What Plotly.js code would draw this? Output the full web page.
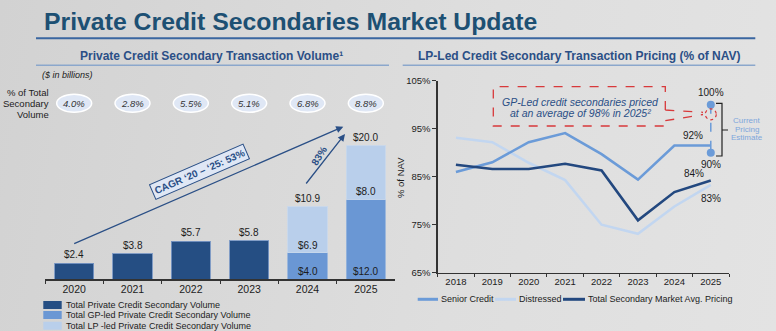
<!DOCTYPE html>
<html>
<head>
<meta charset="utf-8">
<script src="https://cdn.plot.ly/plotly-3.0.1.min.js"></script>
<style>
html,body{margin:0;padding:0;}
body{width:776px;height:331px;overflow:hidden;
background:linear-gradient(100deg,#d2d2d2 0%,#d9d9d9 35%,#dedede 60%,#e3e3e3 100%);}
#chart{width:776px;height:331px;}
</style>
</head>
<body>
<div id="chart"></div>
<script>
// ---------- DATA ----------
const volumeYears = ['2020', '2021', '2022', '2023', '2024', '2025'];
const totalVolume = [2.4, 3.8, 5.7, 5.8, null, null];
const gpLedVolume = [null, null, null, null, 4.0, 12.0];
const lpLedVolume = [null, null, null, null, 6.9, 8.0];
const volumeTotals = [2.4, 3.8, 5.7, 5.8, 10.9, 20.0];
const pctOfTotal = ['4.0%', '2.8%', '5.5%', '5.1%', '6.8%', '8.8%'];
const volumeSeriesNames = ['Total Private Credit Secondary Volume',
  'Total GP-led Private Credit Secondary Volume',
  'Total LP -led Private Credit Secondary Volume'];

const pricingYears = ['2018', '2019', '2020', '2021', '2022', '2023', '2024', '2025'];
const seniorCredit = [86.0, 88.0, 92.2, 94.1, 89.7, 84.4, 91.5, 91.5];
const distressed = [93.1, 92.2, 87.9, 84.3, 75.0, 73.1, 78.8, 83.3];
const totalAvgPricing = [87.5, 86.6, 86.6, 87.7, 86.3, 75.9, 81.8, 84.2];
const estimateYears = ['2025', '2025'];
const estimateRange = [100, 90];
const gpLedAvg2025 = 98;
const pricingSeriesNames = ['Senior Credit', 'Distressed', 'Total Secondary Market Avg. Pricing'];

// ---------- STYLE ----------
const W = 776, H = 331;
const px = x => x / W;
const py = y => 1 - y / H;
const FONT = 'Liberation Sans, Arial, sans-serif';
const NAVY = '#254e83';
const MID = '#6a97d4';
const LIGHT = '#b9cfeb';
const LINE_SENIOR = '#6b9bd8';
const LINE_DIST = '#c2d6f0';
const LINE_TOTAL = '#23487f';
const RED = '#d8393b';
const TXT = '#1c1c1c';

// ---------- TRACES ----------
const barLine = {color: 'rgba(120,150,195,0.9)', width: 1};
const traces = [
  {type: 'bar', x: volumeYears, y: totalVolume, name: volumeSeriesNames[0],
   marker: {color: NAVY, line: barLine}, xaxis: 'x', yaxis: 'y', showlegend: false, hoverinfo: 'skip'},
  {type: 'bar', x: volumeYears, y: gpLedVolume, name: volumeSeriesNames[1],
   marker: {color: MID, line: {color: 'rgba(150,180,220,0.9)', width: 1}}, xaxis: 'x', yaxis: 'y', showlegend: false, hoverinfo: 'skip'},
  {type: 'bar', x: volumeYears, y: lpLedVolume, name: volumeSeriesNames[2],
   marker: {color: LIGHT, line: {color: 'rgba(200,215,235,0.9)', width: 1}}, xaxis: 'x', yaxis: 'y', showlegend: false, hoverinfo: 'skip'},
  {type: 'scatter', mode: 'lines', x: pricingYears, y: distressed, name: pricingSeriesNames[1],
   line: {color: LINE_DIST, width: 2.6}, xaxis: 'x2', yaxis: 'y2', showlegend: false},
  {type: 'scatter', mode: 'lines', x: pricingYears, y: seniorCredit, name: pricingSeriesNames[0],
   line: {color: LINE_SENIOR, width: 2.6}, xaxis: 'x2', yaxis: 'y2', showlegend: false},
  {type: 'scatter', mode: 'lines', x: pricingYears, y: totalAvgPricing, name: pricingSeriesNames[2],
   line: {color: LINE_TOTAL, width: 2.6}, xaxis: 'x2', yaxis: 'y2', showlegend: false},
  {type: 'scatter', mode: 'lines+markers', x: estimateYears, y: estimateRange, name: 'Current Pricing Estimate',
   line: {color: LINE_SENIOR, width: 1.5, dash: 'dash'}, marker: {color: LINE_SENIOR, size: 8},
   xaxis: 'x2', yaxis: 'y2', showlegend: false}
];

// ---------- ANNOTATIONS ----------
const ann = [];
const T = (x, y, text, size, opts) => Object.assign({
  xref: 'paper', yref: 'paper', x: px(x), y: py(y), text: text, showarrow: false,
  xanchor: 'center', yanchor: 'middle', font: {family: FONT, size: size, color: TXT}
}, opts || {});

// Title and subtitles
ann.push(T(42, 21.5, '<b>Private Credit Secondaries Market Update</b>', 24.8,
  {xanchor: 'left', font: {family: FONT, size: 24.8, color: '#1d5073'}}));
ann.push(T(212, 56, '<b>Private Credit Secondary Transaction Volume¹</b>', 12,
  {font: {family: FONT, size: 12, color: '#2b4f86'}}));
ann.push(T(579, 56, '<b>LP-Led Credit Secondary Transaction Pricing (% of NAV)</b>', 12,
  {font: {family: FONT, size: 12, color: '#2b4f86'}}));

// Left chart header texts
ann.push(T(40, 75, '<i>($ in billions)</i>', 9, {xanchor: 'left'}));
ann.push(T(51, 92.7, '% of Total', 9.5, {xanchor: 'right'}));
ann.push(T(51, 103.3, 'Secondary', 9.5, {xanchor: 'right'}));
ann.push(T(51, 114, 'Volume', 9.5, {xanchor: 'right'}));

// pct ellipses (category index positions)
const shapes = [];
volumeYears.forEach((yr, i) => {
  shapes.push({type: 'circle', xref: 'x', yref: 'paper', x0: i - 0.3, x1: i + 0.3,
    y0: py(112.3), y1: py(94.3), fillcolor: '#dfe7f5', line: {color: '#ffffff', width: 1.5}, layer: 'above'});
  ann.push({xref: 'x', yref: 'paper', x: i, y: py(103.3), xanchor: 'center', yanchor: 'middle',
    text: '<i>' + pctOfTotal[i] + '</i>', showarrow: false, font: {family: FONT, size: 9.5, color: '#333'}});
});

// Bar value labels
volumeYears.forEach((yr, i) => {
  ann.push({xref: 'x', yref: 'y', x: i, y: volumeTotals[i], yanchor: 'bottom', yshift: 1,
    text: '$' + volumeTotals[i].toFixed(1), showarrow: false, font: {family: FONT, size: 10, color: TXT}});
  if (gpLedVolume[i] != null) {
    ann.push({xref: 'x', yref: 'y', x: i, y: 0, yanchor: 'bottom', yshift: 0,
      text: '$' + gpLedVolume[i].toFixed(1), showarrow: false, font: {family: FONT, size: 10, color: TXT}});
    ann.push({xref: 'x', yref: 'y', x: i, y: gpLedVolume[i], yanchor: 'bottom', yshift: 0,
      text: '$' + lpLedVolume[i].toFixed(1), showarrow: false, font: {family: FONT, size: 10, color: TXT}});
  }
});

// CAGR arrow and label
ann.push({xref: 'paper', yref: 'paper', x: px(343.3), y: py(126.7), ax: 72.7 - 343.3, ay: 244.3 - 126.7,
  showarrow: true, arrowhead: 2, arrowsize: 1.1, arrowwidth: 1.3, arrowcolor: '#2a4f86', text: ''});
ann.push(T(200, 171.7, '<b>CAGR ‘20 – ‘25: 53%</b>', 10,
  {textangle: -23.5, bgcolor: '#dfe7f5', bordercolor: '#2a4f86', borderwidth: 1, borderpad: 2,
   font: {family: FONT, size: 10, color: '#2a4f86'}}));
ann.push({xref: 'paper', yref: 'paper', x: px(345), y: py(134), ax: 305 - 345, ay: 185 - 134,
  showarrow: true, arrowhead: 2, arrowsize: 1.1, arrowwidth: 1.3, arrowcolor: '#2a4f86', text: ''});
ann.push(T(318.5, 156, '<b>83%</b>', 10, {textangle: -58, font: {family: FONT, size: 10, color: '#2a4f86'}}));

// Left legend (manual, compact rows)
const legendColors = [NAVY, MID, LIGHT];
[305, 315, 325.7].forEach((yc, i) => {
  shapes.push({type: 'rect', xref: 'paper', yref: 'paper', x0: px(43.3), x1: px(61.7),
    y0: py(yc + 4), y1: py(yc - 4), fillcolor: legendColors[i], line: {width: 0}});
  ann.push(T(64, yc, volumeSeriesNames[i], 9, {xanchor: 'left'}));
});

// Right chart annotations
ann.push(T(400, 177, '% of NAV', 9.5, {textangle: -90}));
const last = pricingYears.length - 1;
ann.push({xref: 'x2', yref: 'y2', x: last, y: estimateRange[0], yanchor: 'bottom', yshift: 5,
  text: estimateRange[0] + '%', showarrow: false, font: {family: FONT, size: 10, color: TXT}});
ann.push({xref: 'x2', yref: 'y2', x: last, y: estimateRange[1], yanchor: 'top', yshift: -4,
  text: estimateRange[1] + '%', showarrow: false, font: {family: FONT, size: 10, color: TXT}});
ann.push({xref: 'x2', yref: 'y2', x: last, y: seniorCredit[last], yanchor: 'bottom', yshift: 3, xshift: -18,
  text: Math.round(seniorCredit[last]) + '%', showarrow: false, font: {family: FONT, size: 10, color: TXT}});
ann.push({xref: 'x2', yref: 'y2', x: last, y: totalAvgPricing[last], yanchor: 'bottom', yshift: 0, xshift: -17,
  text: Math.round(totalAvgPricing[last]) + '%', showarrow: false, font: {family: FONT, size: 10, color: TXT}});
ann.push({xref: 'x2', yref: 'y2', x: last, y: distressed[last], yanchor: 'top', yshift: -6,
  text: Math.round(distressed[last]) + '%', showarrow: false, font: {family: FONT, size: 10, color: TXT}});

// callout text
ann.push(T(580, 102, '<i>GP-Led credit secondaries priced</i>', 10.5, {font: {family: FONT, size: 10.5, color: '#2b4f86'}}));
ann.push(T(580, 112.5, '<i>at an average of ' + gpLedAvg2025 + '% in 2025²</i>', 10.5, {font: {family: FONT, size: 10.5, color: '#2b4f86'}}));
ann.push(T(746.7, 120.7, 'Current', 8, {font: {family: FONT, size: 8, color: '#7ea6dc'}}));
ann.push(T(746.7, 129, 'Pricing', 8, {font: {family: FONT, size: 8, color: '#7ea6dc'}}));
ann.push(T(746.7, 137.3, 'Estimate', 8, {font: {family: FONT, size: 8, color: '#7ea6dc'}}));

// Right legend (manual)
const rlColors = [LINE_SENIOR, LINE_DIST, LINE_TOTAL];
const rlLine = [[417.7, 438], [495, 516], [563, 585]];
pricingSeriesNames.forEach((nm, i) => {
  shapes.push({type: 'line', xref: 'paper', yref: 'paper', x0: px(rlLine[i][0]), x1: px(rlLine[i][1]),
    y0: py(299.3), y1: py(299.3), line: {color: rlColors[i], width: 3}});
  ann.push(T(rlLine[i][1] + 1, 299.3, nm, 9, {xanchor: 'left'}));
});

// ---------- SHAPES (decorations) ----------
shapes.push({type: 'line', xref: 'paper', yref: 'paper', x0: px(36), x1: px(755.3), y0: py(38.3), y1: py(38.3),
  line: {color: '#3a66a0', width: 2}});
shapes.push({type: 'line', xref: 'paper', yref: 'paper', x0: px(36), x1: px(389), y0: py(65.3), y1: py(65.3),
  line: {color: '#8ba7cc', width: 1.5}});
shapes.push({type: 'line', xref: 'paper', yref: 'paper', x0: px(402.7), x1: px(755.3), y0: py(65.3), y1: py(65.3),
  line: {color: '#8ba7cc', width: 1.5}});

const P = (x, y) => px(x).toFixed(5) + ',' + py(y).toFixed(5);
shapes.push({type: 'path', xref: 'paper', yref: 'paper',
  path: 'M' + P(665.3, 110) + 'L' + P(665.3, 86.7) + 'L' + P(493.3, 86.7) + 'L' + P(493.3, 126) +
        'L' + P(665.3, 126) + 'L' + P(665.3, 120.7) +
        'M' + P(665.3, 110) + 'L' + P(703, 112.3) +
        'M' + P(665.3, 120.7) + 'L' + P(703, 114.5),
  line: {color: RED, width: 1.3, dash: 'dash'}});
shapes.push({type: 'circle', xref: 'x2', yref: 'y2', xsizemode: 'pixel', ysizemode: 'pixel',
  xanchor: last, yanchor: gpLedAvg2025, x0: -5.5, x1: 5.5, y0: -5.5, y1: 5.5,
  line: {color: RED, width: 1.2, dash: 'dot'}});
shapes.push({type: 'path', xref: 'paper', yref: 'paper',
  path: 'M' + P(716, 103.3) + 'L' + P(722, 103.3) + 'L' + P(722, 156) + 'L' + P(716, 156) +
        'M' + P(722, 130) + 'L' + P(728, 130),
  line: {color: '#222', width: 1.2}});

// ---------- LAYOUT ----------
const layout = {
  width: W, height: H,
  margin: {l: 0, r: 0, t: 0, b: 0},
  paper_bgcolor: 'rgba(0,0,0,0)', plot_bgcolor: 'rgba(0,0,0,0)',
  font: {family: FONT, color: TXT},
  showlegend: false,
  barmode: 'stack', bargap: 0.326,
  xaxis: {domain: [px(45), px(395)], type: 'category', categoryorder: 'array', categoryarray: volumeYears,
    range: [-0.5, volumeYears.length - 0.5], autorange: false,
    showline: true, linecolor: '#333', linewidth: 1.3, ticks: 'outside', tickson: 'boundaries', ticklen: 3,
    tickcolor: '#333', tickfont: {family: FONT, size: 10.5, color: TXT}, showgrid: false, automargin: false, fixedrange: true},
  yaxis: {domain: [py(279.3), py(119.3)], range: [0, 24], autorange: false, visible: false, showgrid: false, fixedrange: true},
  xaxis2: {domain: [px(437.7), px(729)], anchor: 'y2', type: 'category', categoryorder: 'array', categoryarray: pricingYears,
    range: [-0.5, pricingYears.length - 0.5], autorange: false,
    showline: true, linecolor: '#333', linewidth: 1.3, ticks: 'outside', tickson: 'boundaries', ticklen: 3,
    tickcolor: '#333', tickfont: {family: FONT, size: 9.5, color: TXT}, showgrid: false, automargin: false, fixedrange: true},
  yaxis2: {domain: [py(272.7), py(80.7)], anchor: 'x2', range: [65, 105], autorange: false, dtick: 10, tick0: 65, ticksuffix: '%',
    showline: true, linecolor: '#333', linewidth: 1.3, ticks: 'outside', ticklen: 4, tickcolor: '#333',
    tickfont: {family: FONT, size: 9.5, color: TXT}, showgrid: false, zeroline: false, automargin: false, fixedrange: true},
  annotations: ann,
  shapes: shapes
};

Plotly.newPlot('chart', traces, layout, {staticPlot: true, displayModeBar: false});
</script>
</body>
</html>
